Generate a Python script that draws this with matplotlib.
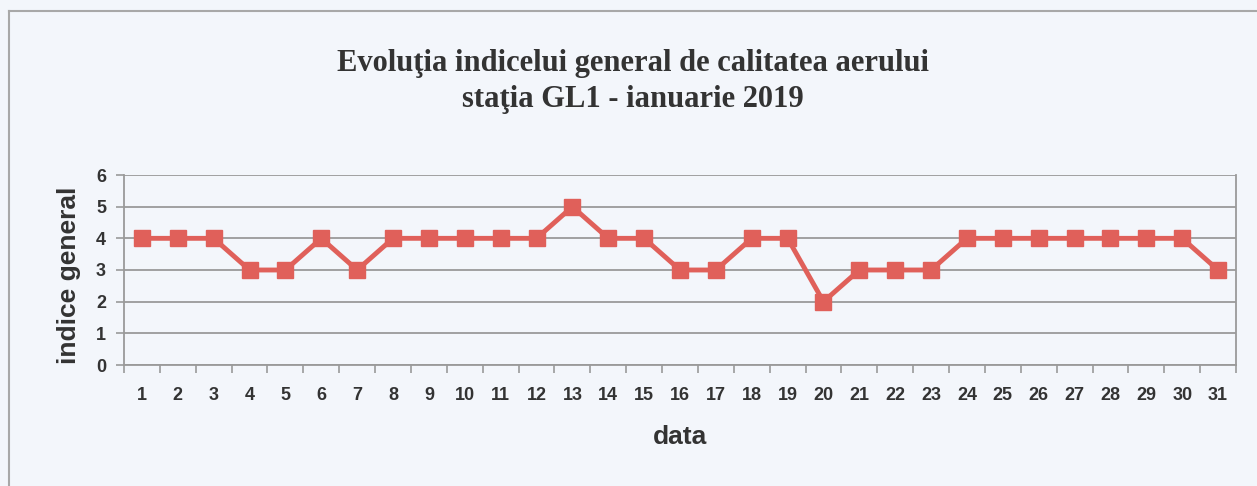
import matplotlib
matplotlib.use("Agg")
import matplotlib.pyplot as plt
from matplotlib.lines import Line2D

days = list(range(1, 32))
indice = [4, 4, 4, 3, 3, 4, 3, 4, 4, 4, 4, 4, 5, 4, 4, 3, 3, 4, 4, 2,
          3, 3, 3, 4, 4, 4, 4, 4, 4, 4, 3]
y_ticks = [0, 1, 2, 3, 4, 5, 6]

BG = "#f3f6fb"
RED = "#e0605a"
GRID = "#9a9a9a"
TXT = "#333333"

fig = plt.figure(figsize=(12.57, 4.86), dpi=100, facecolor=BG)
ax = fig.add_axes([124 / 1257, 1 - 365 / 486, 1112 / 1257, 190 / 486])
ax.set_facecolor(BG)

ax.plot(days, indice, color=RED, lw=3.5, marker="s", ms=12,
        mfc=RED, mec=RED, zorder=3)

ax.set_xlim(0.5, 31.5)
ax.set_ylim(0, 6)
ax.set_yticks(y_ticks)
ax.set_xticks(days)
ax.set_xticks([d + 0.5 for d in [0] + days], minor=True)
ax.tick_params(axis="x", which="major", length=0, pad=16)
ax.tick_params(axis="x", which="minor", length=6, color=GRID, width=1.2)
ax.tick_params(axis="y", length=6, color=GRID, width=1.2, pad=7)
for lab in ax.get_xticklabels() + ax.get_yticklabels():
    lab.set_fontfamily("Liberation Sans")
    lab.set_fontweight("bold")
    lab.set_fontsize(13)
    lab.set_color(TXT)

ax.grid(axis="y", color=GRID, lw=1.3)
ax.set_axisbelow(True)
for side in ["left", "bottom", "right"]:
    ax.spines[side].set_color(GRID)
    ax.spines[side].set_linewidth(1.3)
ax.spines["top"].set_visible(False)

ax.set_xlabel("data", fontfamily="Liberation Sans", fontweight="bold",
              fontsize=19, color=TXT, va="center")
ax.xaxis.set_label_coords(0.5, (365 - 437) / 190)
ax.set_ylabel("indice general", fontfamily="Liberation Sans", fontweight="bold",
              fontsize=19, color=TXT, va="center")
ax.yaxis.set_label_coords((69 - 124) / 1112, 0.5 - 5 / 190)

fig.text(633 / 1257, 1 - 63 / 486, "Evoluţia indicelui general de calitatea aerului",
         ha="center", va="center", fontfamily="Liberation Serif",
         fontweight="bold", fontsize=22, color=TXT)
fig.text(633 / 1257, 1 - 100 / 486, "staţia GL1 - ianuarie 2019",
         ha="center", va="center", fontfamily="Liberation Serif",
         fontweight="bold", fontsize=22, color=TXT)

# outer chart frame (only top and left visible in the scan)
fig.add_artist(Line2D([9 / 1257, 1], [1 - 11 / 486, 1 - 11 / 486],
                      transform=fig.transFigure, color="#a8a8a8", lw=1.5))
fig.add_artist(Line2D([9 / 1257, 9 / 1257], [0, 1 - 11 / 486],
                      transform=fig.transFigure, color="#a8a8a8", lw=1.5))

fig.savefig("out.png", dpi=100, facecolor=BG)
